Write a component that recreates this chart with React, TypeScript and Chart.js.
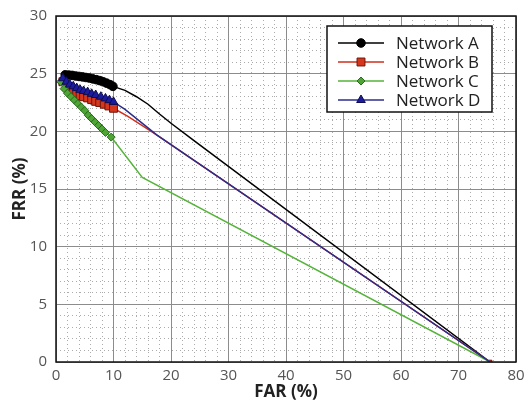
import React, { useEffect, useRef } from 'react';
import { Chart, registerables } from 'chart.js';

Chart.register(...registerables);

const FONT = '"Open Sans", "Noto Sans", "DejaVu Sans", sans-serif';

// ---- data (FAR %, FRR %) ----
const seriesNames = ['Network A', 'Network B', 'Network C', 'Network D'];

// marked operating points
const farA = [1.6, 2.2, 2.8, 3.4, 4.0, 4.6, 5.2, 5.8, 6.4, 7.0, 7.6, 8.2, 8.8, 9.4, 9.9];
const frrA = [24.9, 24.88, 24.85, 24.8, 24.76, 24.72, 24.67, 24.62, 24.55, 24.48, 24.4, 24.3, 24.18, 24.05, 23.9];
// curve continuation (no marker)
const farATail = [12, 14, 16, 18, 20, 24, 75.5];
const frrATail = [23.55, 23.0, 22.35, 21.5, 20.7, 19.2, 0];

const farB = [1.2, 1.8, 2.4, 3.0, 3.6, 4.2, 4.8, 5.5, 6.2, 6.9, 7.6, 8.4, 9.2, 10.0];
const frrB = [24.3, 23.9, 23.6, 23.4, 23.25, 23.1, 23.0, 22.9, 22.75, 22.6, 22.5, 22.35, 22.2, 22.0];
const farBTail = [12.5, 15, 17.5, 75.5];
const frrBTail = [21.3, 20.5, 19.7, 0];

const farC = [0.8, 1.4, 2.0, 2.6, 3.2, 3.8, 4.4, 5.0, 5.6, 6.2, 6.8, 7.4, 8.0, 8.6, 9.6];
const frrC = [24.3, 23.7, 23.3, 23.0, 22.7, 22.4, 22.1, 21.8, 21.4, 21.1, 20.8, 20.5, 20.2, 19.9, 19.5];
const farCTail = [15, 75.5];
const frrCTail = [16.0, 0];

const farD = [1.2, 1.8, 2.4, 3.0, 3.6, 4.2, 4.8, 5.5, 6.2, 6.9, 7.8, 8.6, 9.3, 10.0];
const frrD = [24.6, 24.3, 24.05, 23.9, 23.75, 23.6, 23.5, 23.4, 23.25, 23.15, 23.0, 22.85, 22.7, 22.55];
const farDTail = [12, 14, 16, 17.5, 75.5];
const frrDTail = [21.9, 21.1, 20.3, 19.7, 0];

const xTicksMax = 80;
const yTicksMax = 30;

type Style = {
  line: string;
  fill: string;
  edge: string;
  shape: 'circle' | 'rect' | 'rectRot' | 'triangle';
  r: number;
};

const styles: Style[] = [
  { line: '#000000', fill: '#000000', edge: '#000000', shape: 'circle', r: 4.3 },
  { line: '#cf2f1c', fill: '#d6361c', edge: '#6e150a', shape: 'rect', r: 5.6 },
  { line: '#55b33a', fill: '#4ea536', edge: '#2a6a1c', shape: 'rectRot', r: 4 },
  { line: '#2c2c8c', fill: '#1c1ca0', edge: '#0c0c50', shape: 'triangle', r: 5 },
];

function pts(xs: number[], ys: number[]) {
  return xs.map((x, i) => ({ x, y: ys[i] }));
}

function drawMarker(ctx: CanvasRenderingContext2D, s: Style, x: number, y: number) {
  ctx.save();
  ctx.fillStyle = s.fill;
  ctx.strokeStyle = s.edge;
  ctx.lineWidth = 1;
  ctx.beginPath();
  const r = s.r;
  if (s.shape === 'circle') {
    ctx.arc(x, y, r, 0, Math.PI * 2);
  } else if (s.shape === 'rect') {
    const h = r * Math.SQRT1_2;
    ctx.rect(x - h, y - h, 2 * h, 2 * h);
  } else if (s.shape === 'rectRot') {
    ctx.moveTo(x, y - r);
    ctx.lineTo(x + r, y);
    ctx.lineTo(x, y + r);
    ctx.lineTo(x - r, y);
    ctx.closePath();
  } else {
    const side = (3 * r) / Math.sqrt(3);
    const h = (side * Math.sqrt(3)) / 2;
    ctx.moveTo(x, y - (2 * h) / 3);
    ctx.lineTo(x + side / 2, y + h / 3);
    ctx.lineTo(x - side / 2, y + h / 3);
    ctx.closePath();
  }
  ctx.fill();
  ctx.stroke();
  ctx.restore();
}

const framePlugin = {
  id: 'frame',
  afterDatasetsDraw(chart: any) {
    const { ctx, chartArea: a } = chart;
    ctx.save();
    ctx.strokeStyle = '#111';
    ctx.lineWidth = 1.5;
    ctx.strokeRect(a.left, a.top, a.right - a.left, a.bottom - a.top);
    ctx.restore();
  },
};

const legendPlugin = {
  id: 'boxLegend',
  afterDraw(chart: any) {
    const { ctx, chartArea: a } = chart;
    const left = a.right - 189;
    const top = a.top + 10;
    const w = 165;
    const h = 86;
    ctx.save();
    ctx.fillStyle = '#ffffff';
    ctx.fillRect(left, top, w, h);
    ctx.strokeStyle = '#111';
    ctx.lineWidth = 1.5;
    ctx.strokeRect(left, top, w, h);
    ctx.font = `17px ${FONT}`;
    ctx.textBaseline = 'middle';
    ctx.textAlign = 'left';
    seriesNames.forEach((name, i) => {
      const y = top + 17 + i * 19;
      const s = styles[i];
      ctx.strokeStyle = s.line;
      ctx.lineWidth = 1.5;
      ctx.beginPath();
      ctx.moveTo(left + 11, y);
      ctx.lineTo(left + 57, y);
      ctx.stroke();
      drawMarker(ctx, s, left + 34, y);
      ctx.fillStyle = '#222';
      ctx.fillText(name, left + 69, y + 1);
    });
    ctx.restore();
  },
};

export default function App() {
  const ref = useRef<HTMLCanvasElement>(null);

  useEffect(() => {
    if (!ref.current) return;
    const all = [
      [farA, frrA, farATail, frrATail],
      [farB, frrB, farBTail, frrBTail],
      [farC, frrC, farCTail, frrCTail],
      [farD, frrD, farDTail, frrDTail],
    ];
    const datasets = all.map(([xs, ys, tx, ty], i) => {
      const s = styles[i];
      const nMarked = xs.length;
      const total = xs.length + tx.length;
      return {
        label: seriesNames[i],
        data: [...pts(xs, ys), ...pts(tx, ty)],
        order: 3 - i,
        showLine: true,
        borderColor: s.line,
        borderWidth: 1.5,
        backgroundColor: s.fill,
        pointStyle: s.shape,
        pointRadius: (c: any) =>
          c.dataIndex < nMarked ? s.r : i === 1 && c.dataIndex === total - 1 ? 2.5 : 0,
        pointHoverRadius: 0,
        pointBackgroundColor: s.fill,
        pointBorderColor: s.edge,
        pointBorderWidth: 1,
        tension: 0,
      };
    });

    const chart = new Chart(ref.current, {
      type: 'scatter',
      data: { datasets },
      options: {
        animation: false,
        responsive: true,
        maintainAspectRatio: false,
        events: [],
        layout: { padding: { top: 16, right: 10, bottom: 0, left: 0 } },
        plugins: { legend: { display: false }, tooltip: { enabled: false } },
        scales: {
          xMinor: {
            type: 'linear',
            position: 'bottom',
            min: 0,
            max: xTicksMax,
            ticks: { display: false, stepSize: 2 },
            grid: { color: '#ababab', lineWidth: 1, drawTicks: false },
            border: { display: false, dash: [1, 3] },
            afterFit: (s: any) => {
              s.height = 0;
              s.paddingLeft = 0;
              s.paddingRight = 0;
            },
          },
          yMinor: {
            type: 'linear',
            position: 'left',
            min: 0,
            max: yTicksMax,
            ticks: { display: false, stepSize: 1 },
            grid: { color: '#ababab', lineWidth: 1, drawTicks: false },
            border: { display: false, dash: [1, 3] },
            afterFit: (s: any) => {
              s.width = 0;
              s.paddingTop = 0;
              s.paddingBottom = 0;
            },
          },
          x: {
            type: 'linear',
            position: 'bottom',
            min: 0,
            max: xTicksMax,
            ticks: {
              stepSize: 10,
              padding: 5,
              color: '#555',
              font: { family: FONT, size: 15 },
            },
            grid: { color: '#8c8c8c', lineWidth: 1, drawTicks: false },
            border: { display: false },
            title: {
              display: true,
              text: 'FAR (%)',
              color: '#222',
              font: { family: FONT, size: 17, weight: 'bold' },
              padding: { top: 0, bottom: 7 },
            },
            afterFit: (s: any) => {
              s.height = 47;
              s.paddingLeft = 0;
              s.paddingRight = 0;
            },
          },
          y: {
            type: 'linear',
            position: 'left',
            min: 0,
            max: yTicksMax,
            ticks: {
              stepSize: 5,
              padding: 9,
              color: '#555',
              font: { family: FONT, size: 15 },
            },
            grid: { color: '#8c8c8c', lineWidth: 1, drawTicks: false },
            border: { display: false },
            title: {
              display: true,
              text: 'FRR (%)',
              color: '#222',
              font: { family: FONT, size: 17, weight: 'bold' },
              padding: { top: 10, bottom: 0 },
            },
            afterFit: (s: any) => {
              s.width = 56;
              s.paddingTop = 0;
              s.paddingBottom = 0;
            },
          },
        },
      },
      plugins: [framePlugin, legendPlugin],
    } as any);
    return () => chart.destroy();
  }, []);

  return (
    <div
      style={{
        position: 'fixed',
        left: 0,
        top: 0,
        width: 526,
        height: 409,
        background: '#ffffff',
      }}
    >
      <canvas ref={ref} />
    </div>
  );
}
